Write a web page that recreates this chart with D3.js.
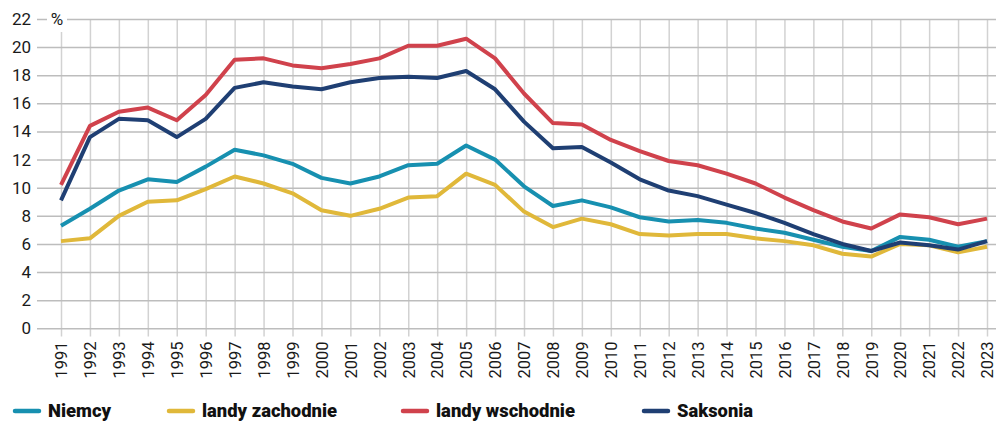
<!DOCTYPE html>
<meta charset="utf-8">
<style>
  body { margin: 0; background: #fff; }
  svg { display: block; font-family: Roboto, "Noto Sans", sans-serif; }
</style>
<svg width="996" height="421"></svg>
<script src="https://d3js.org/d3.v7.min.js"></script>
<script>

var years = d3.range(1991, 2024);

var niemcy = [7.3, 8.5, 9.8, 10.6, 10.4, 11.5, 12.7, 12.3, 11.7, 10.7, 10.3, 10.8, 11.6, 11.7, 13.0, 12.0, 10.1,
              8.7, 9.1, 8.6, 7.9, 7.6, 7.7, 7.5, 7.1, 6.8, 6.3, 5.8, 5.5, 6.5, 6.3, 5.8, 6.2];
var zachodnie = [6.2, 6.4, 8.0, 9.0, 9.1, 9.9, 10.8, 10.3, 9.6, 8.4, 8.0, 8.5, 9.3, 9.4, 11.0, 10.2, 8.3,
                 7.2, 7.8, 7.4, 6.7, 6.6, 6.7, 6.7, 6.4, 6.2, 5.9, 5.3, 5.1, 6.0, 5.9, 5.4, 5.8];
var wschodnie = [10.2, 14.4, 15.4, 15.7, 14.8, 16.6, 19.1, 19.2, 18.7, 18.5, 18.8, 19.2, 20.1, 20.1, 20.6, 19.2, 16.7,
                 14.6, 14.5, 13.4, 12.6, 11.9, 11.6, 11.0, 10.3, 9.3, 8.4, 7.6, 7.1, 8.1, 7.9, 7.4, 7.8];
var saksonia = [9.1, 13.6, 14.9, 14.8, 13.6, 14.9, 17.1, 17.5, 17.2, 17.0, 17.5, 17.8, 17.9, 17.8, 18.3, 17.0, 14.7,
                12.8, 12.9, 11.8, 10.6, 9.8, 9.4, 8.8, 8.2, 7.5, 6.7, 6.0, 5.5, 6.1, 5.9, 5.6, 6.2];

var yTicks = d3.range(0, 23, 2);

var seriesNames = ["Niemcy", "landy zachodnie", "landy wschodnie", "Saksonia"];
var seriesValues = [niemcy, zachodnie, wschodnie, saksonia];
var seriesColors = ["#1790b0", "#e0b83a", "#d0424c", "#1f3f73"];

var svg = d3.select("svg");

var x = d3.scaleLinear().domain([1991, 2023]).range([61, 987]);
var y = d3.scaleLinear().domain([0, 22]).range([328.3, 19]);

// vertical grid (with tick stubs under the zero line)
svg.append("g")
    .attr("transform", "translate(0,336.5)")
    .call(d3.axisBottom(x).tickValues(years).tickFormat(d3.format("d"))
      .tickSize(336.5 - 19).tickSizeOuter(0))
    .call(g => g.select(".domain").remove())
    .call(g => g.selectAll(".tick line")
        .attr("y2", -(336.5 - 19)).attr("stroke", "#d2d2d2").attr("stroke-width", 1.5))
    .call(g => g.selectAll(".tick text")
        .attr("transform", "rotate(-90)")
        .attr("x", -5).attr("y", 0).attr("dy", "0.35em")
        .attr("text-anchor", "end")
        .attr("fill", "#1a1a1a")
        .attr("font-size", 16.5)
        .attr("font-family", "Roboto, sans-serif"));

// horizontal grid
svg.append("g")
    .attr("transform", "translate(996,0)")
    .call(d3.axisLeft(y).tickValues(yTicks).tickSize(996 - 37).tickPadding(6))
    .call(g => g.select(".domain").remove())
    .call(g => g.selectAll(".tick line").attr("stroke", "#bdbdbd").attr("stroke-width", 1.5))
    .call(g => g.selectAll(".tick text")
        .attr("fill", "#1a1a1a")
        .attr("font-size", 17)
        .attr("font-family", "Roboto, sans-serif"));

// unit label sitting on the top grid line
svg.append("rect")
    .attr("x", 47).attr("y", 6).attr("width", 20).attr("height", 26)
    .attr("fill", "#fff");
svg.append("text")
    .attr("x", 57).attr("y", y(22)).attr("dy", "0.35em")
    .attr("text-anchor", "middle")
    .attr("font-size", 17)
    .attr("fill", "#1a1a1a")
    .text("%");

var line = d3.line()
    .x((d, i) => x(years[i]))
    .y(d => y(d))
    .curve(d3.curveLinear);

// draw order: western, Germany, eastern, Saxony on top
[1, 0, 2, 3].forEach(function(k) {
  svg.append("path")
      .datum(seriesValues[k])
      .attr("fill", "none")
      .attr("stroke", seriesColors[k])
      .attr("stroke-width", 4)
      .attr("stroke-linejoin", "round")
      .attr("d", line);
});

// legend (nudged up a little so descenders stay inside the frame)
var legendX = [13, 167, 401, 642],
    legendW = [63, 135, 139, 76];

var legend = svg.append("g").attr("transform", "translate(0,411)");
seriesNames.forEach(function(name, i) {
  legend.append("line")
      .attr("x1", legendX[i] + 2).attr("x2", legendX[i] + 26)
      .attr("stroke", seriesColors[i])
      .attr("stroke-width", 4.5)
      .attr("stroke-linecap", "round");
  legend.append("text")
      .attr("x", legendX[i] + 35)
      .attr("y", 6)
      .attr("font-size", 19)
      .attr("font-weight", 900)
      .attr("fill", "#111")
      .attr("textLength", legendW[i])
      .attr("lengthAdjust", "spacingAndGlyphs")
      .text(name);
});

</script>
